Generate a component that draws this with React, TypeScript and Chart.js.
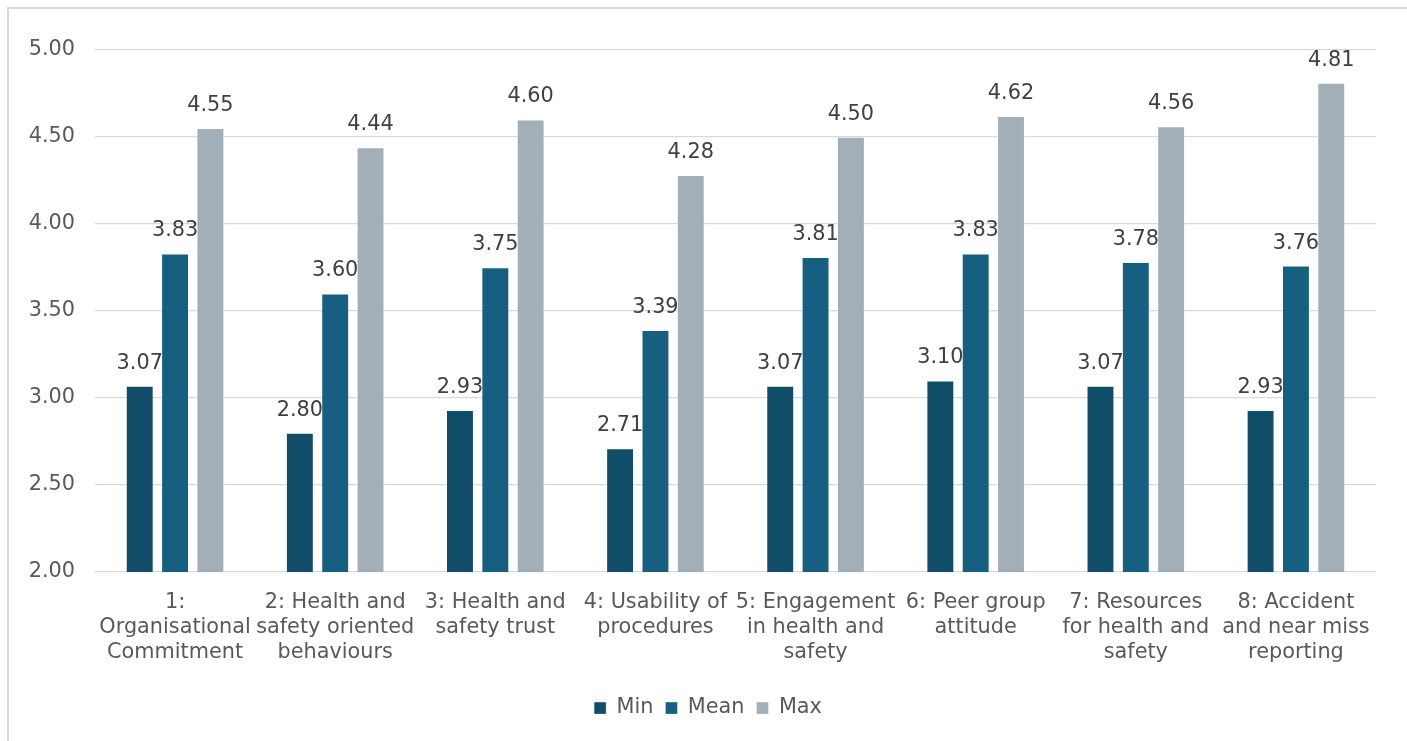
import React, { useEffect, useRef } from "react";
import { Chart, registerables } from "chart.js";

Chart.register(...registerables);

// Safety culture dimensions (x-axis categories, one line per array entry)
const categories: string[][] = [
  ["1:", "Organisational", "Commitment"],
  ["2: Health and", "safety oriented", "behaviours"],
  ["3: Health and", "safety trust"],
  ["4: Usability of", "procedures"],
  ["5: Engagement", "in health and", "safety"],
  ["6: Peer group", "attitude"],
  ["7: Resources", "for health and", "safety"],
  ["8: Accident", "and near miss", "reporting"],
];

// Score per dimension
const minScores = [3.07, 2.8, 2.93, 2.71, 3.07, 3.1, 3.07, 2.93];
const meanScores = [3.83, 3.6, 3.75, 3.39, 3.81, 3.83, 3.78, 3.76];
const maxScores = [4.55, 4.44, 4.6, 4.28, 4.5, 4.62, 4.56, 4.81];

const seriesNames = ["Min", "Mean", "Max"];
const seriesColors = ["#114d68", "#175f80", "#a2afb9"];

// Value axis range
const yMin = 2;
const yMax = 5;
const yStep = 0.5;

const FONT = '"DejaVu Sans", Verdana, sans-serif';
const FONT_SIZE = 20.8;
const AXIS_TEXT = "#595959";
const VALUE_TEXT = "#404040";
const GRID = "#d9d9d9";

const CANVAS_W = 1398;
const CANVAS_H = 732;

// Writes each bar's value above it
const valueLabels = {
  id: "valueLabels",
  afterDatasetsDraw(chart: any) {
    const ctx = chart.ctx;
    ctx.save();
    ctx.font = `${FONT_SIZE}px ${FONT}`;
    ctx.fillStyle = VALUE_TEXT;
    ctx.textAlign = "center";
    ctx.textBaseline = "alphabetic";
    chart.data.datasets.forEach((ds: any, i: number) => {
      const meta = chart.getDatasetMeta(i);
      meta.data.forEach((bar: any, j: number) => {
        const v = ds.data[j] as number;
        ctx.fillText(v.toFixed(2), bar.x, bar.y - 17);
      });
    });
    ctx.restore();
  },
};

// Centre the legend row on the whole canvas rather than the padded area
const legendCentre = {
  id: "legendCentre",
  afterLayout(chart: any) {
    if (chart.legend) {
      chart.legend.left = 0;
      chart.legend.right = chart.width;
    }
  },
};

export default function App() {
  const canvasRef = useRef<HTMLCanvasElement | null>(null);

  useEffect(() => {
    if (!canvasRef.current) return;
    const seriesData = [minScores, meanScores, maxScores];
    const chart = new Chart(canvasRef.current, {
      type: "bar",
      data: {
        labels: categories,
        datasets: seriesNames.map((name, i) => ({
          label: name,
          data: seriesData[i],
          backgroundColor: seriesColors[i],
          borderColor: "rgba(255,255,255,0.35)",
          borderWidth: 1,
          categoryPercentage: 0.662,
          barPercentage: 0.79,
        })),
      },
      options: {
        responsive: false,
        animation: false,
        devicePixelRatio: 1,
        layout: {
          padding: { top: 40.8, right: 31, bottom: 12.5, left: 0 },
        },
        font: { family: FONT },
        plugins: {
          tooltip: { enabled: false },
          legend: {
            position: "bottom",
            labels: {
              boxWidth: 12,
              boxHeight: 12,
              padding: 12,
              color: AXIS_TEXT,
              font: { family: FONT, size: FONT_SIZE },
            },
          },
        },
        scales: {
          x: {
            grid: { display: false, drawTicks: false },
            border: { display: false },
            ticks: {
              color: AXIS_TEXT,
              font: { family: FONT, size: FONT_SIZE, lineHeight: 1.2 },
              padding: 18,
              maxRotation: 0,
              minRotation: 0,
              autoSkip: false,
            },
            afterFit(scale: any) {
              scale.height = 113.8;
            },
          },
          y: {
            min: yMin,
            max: yMax,
            grid: { color: GRID, lineWidth: 1.3, drawTicks: false },
            border: { display: false },
            ticks: {
              stepSize: yStep,
              color: AXIS_TEXT,
              font: { family: FONT, size: FONT_SIZE },
              padding: 20,
              callback: (v: any) => Number(v).toFixed(2),
            },
            afterFit(scale: any) {
              scale.width = 86;
            },
          },
        },
      },
      plugins: [valueLabels, legendCentre],
    });
    return () => chart.destroy();
  }, []);

  return (
    <div
      style={{
        position: "fixed",
        left: 7,
        top: 7,
        width: CANVAS_W + 30,
        height: CANVAS_H + 30,
        borderTop: `2px solid ${GRID}`,
        borderLeft: `2px solid ${GRID}`,
        boxSizing: "border-box",
        background: "#ffffff",
        overflow: "hidden",
      }}
    >
      <canvas
        ref={canvasRef}
        width={CANVAS_W}
        height={CANVAS_H}
        style={{ display: "block", width: CANVAS_W, height: CANVAS_H }}
      />
    </div>
  );
}
